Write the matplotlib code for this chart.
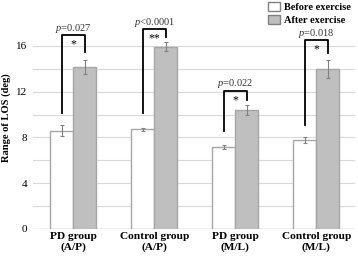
import numpy as np
import matplotlib.pyplot as plt
from matplotlib.patches import Patch

plt.rcParams['font.family'] = ['Liberation Serif', 'DejaVu Serif']
plt.rcParams['mathtext.fontset'] = 'custom'
plt.rcParams['mathtext.it'] = 'Liberation Serif:italic'
plt.rcParams['mathtext.rm'] = 'Liberation Serif'

groups = ['PD group\n(A/P)', 'Control group\n(A/P)', 'PD group\n(M/L)', 'Control group\n(M/L)']
before = [8.6, 8.7, 7.15, 7.75]
before_err = [0.5, 0.15, 0.2, 0.25]
after = [14.15, 15.95, 10.4, 14.0]
after_err = [0.6, 0.4, 0.4, 0.8]
p_text = ['=0.027', '<0.0001', '=0.022', '=0.018']
stars = ['*', '**', '*', '*']
# bracket: left foot, top, right foot
br_left = [10.1, 10.1, 8.6, 9.1]
br_top = [16.95, 17.45, 12.1, 16.5]
br_right = [15.5, 16.8, 11.3, 15.35]

fig = plt.figure(figsize=(3.58, 2.57), dpi=100)
ax = fig.add_axes([0.092, 0.109, 0.9, 0.868])

x = np.arange(len(groups))
w = 0.284
ax.bar(x - w/2, before, w, color='white', edgecolor='#a6a6a6', linewidth=1, zorder=3,
       yerr=before_err, error_kw=dict(ecolor='#808080', elinewidth=0.8, capsize=1.5, capthick=0.8))
ax.bar(x + w/2, after, w, color='#bfbfbf', edgecolor='#a6a6a6', linewidth=1, zorder=3,
       yerr=after_err, error_kw=dict(ecolor='#808080', elinewidth=0.8, capsize=1.5, capthick=0.8))

for i in range(len(groups)):
    xl, xr = x[i] - w/2, x[i] + w/2
    ax.plot([xl, xl, xr, xr], [br_left[i], br_top[i], br_top[i], br_right[i]],
            color='black', lw=1.3, zorder=4, clip_on=False)
    ax.text(x[i], br_top[i] - 0.3, stars[i], ha='center', va='top', fontsize=8.5, zorder=5)
    ax.text(x[i], br_top[i] + 0.05, r'$\it{p}$' + p_text[i], ha='center', va='bottom',
            fontsize=7.5, color='#333333')

ax.set_xlim(-0.5, 3.48)
ax.set_ylim(0, 19.5)
ax.set_yticks(np.arange(0, 17, 2), minor=True)
ax.set_yticks([0, 4, 8, 12, 16])
ax.grid(axis='y', which='both', color='#d9d9d9', lw=0.8, zorder=0)
ax.tick_params(axis='both', which='both', length=0, labelsize=8)
ax.tick_params(axis='y', pad=4)
ax.tick_params(axis='x', pad=2)
ax.set_xticks(x)
ax.set_xticklabels(groups, fontweight='bold', fontsize=8.2)
for s in ax.spines.values():
    s.set_visible(False)
ax.axhline(0, color='#bfbfbf', lw=1, zorder=2)
ax.set_ylabel('Range of LOS (deg)', fontweight='bold', fontsize=7.6, labelpad=4)

handles = [Patch(facecolor='white', edgecolor='#808080'),
           Patch(facecolor='#bfbfbf', edgecolor='#808080')]
ax.legend(handles, ['Before exercise', 'After exercise'], loc='upper right',
          bbox_to_anchor=(1.01, 1.05), frameon=False, prop={'weight': 'bold', 'size': 7.5},
          handlelength=1.2, handleheight=0.9, handletextpad=0.4, labelspacing=0.3, borderpad=0.2)

fig.savefig('out.png', dpi=100)
